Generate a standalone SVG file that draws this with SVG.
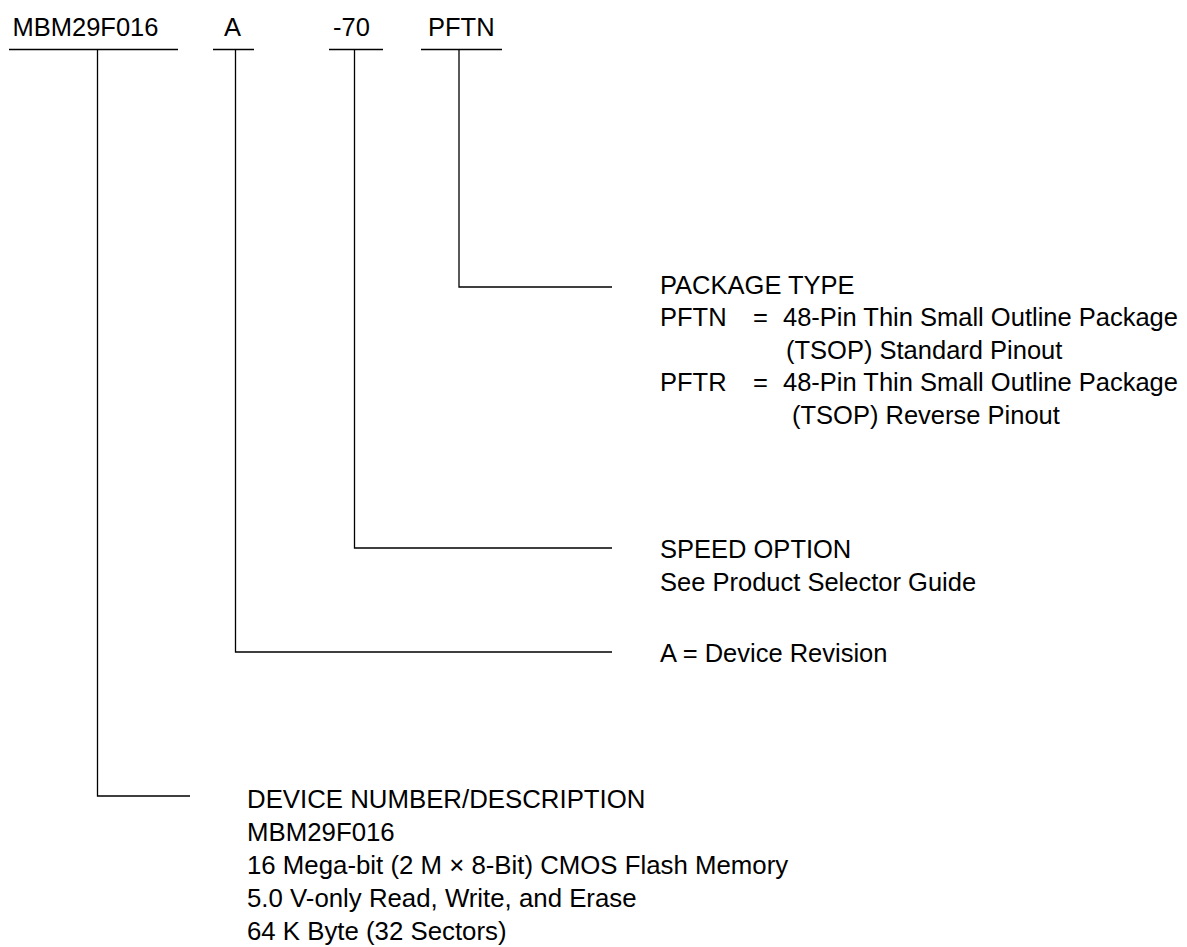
<svg xmlns="http://www.w3.org/2000/svg" width="1187" height="947" viewBox="0 0 1187 947">
<style>
text{font-family:"Liberation Sans",Arial,sans-serif;font-size:25.5px;fill:#000}
#device text{font-size:25.8px}
.ln{stroke:#000;stroke-width:1.3;fill:none}
</style>
<rect width="1187" height="947" fill="#fff"/>
<g id="code">
<text x="12.5" y="36">MBM29F016</text>
<text x="224" y="36">A</text>
<text x="333" y="36">-70</text>
<text x="428" y="36">PFTN</text>
</g>
<g id="connectors" class="ln">
<path d="M9 49.5H178M213 49.5H254M329 49.5H383M421 49.5H502"/>
<path d="M97.5 49.5V796H190"/>
<path d="M235.5 49.5V652H612"/>
<path d="M354.5 49.5V548H612"/>
<path d="M459 49.5V287H612"/>
</g>
<g id="package">
<text x="660" y="293.5">PACKAGE TYPE</text>
<text x="660" y="326">PFTN</text><text x="753" y="326">=</text><text x="783" y="326">48-Pin Thin Small Outline Package</text>
<text x="786" y="358.5">(TSOP) Standard Pinout</text>
<text x="660" y="391">PFTR</text><text x="753" y="391">=</text><text x="783" y="391">48-Pin Thin Small Outline Package</text>
<text x="792" y="423.5">(TSOP) Reverse Pinout</text>
</g>
<g id="speed">
<text x="660" y="558">SPEED OPTION</text>
<text x="660" y="591">See Product Selector Guide</text>
</g>
<g id="revision">
<text x="660" y="661.5">A = Device Revision</text>
</g>
<g id="device">
<text x="247" y="808">DEVICE NUMBER/DESCRIPTION</text>
<text x="247" y="841">MBM29F016</text>
<text x="247" y="874">16 Mega-bit (2 M × 8-Bit) CMOS Flash Memory</text>
<text x="247" y="907">5.0 V-only Read, Write, and Erase</text>
<text x="247" y="940">64 K Byte (32 Sectors)</text>
</g>
</svg>
